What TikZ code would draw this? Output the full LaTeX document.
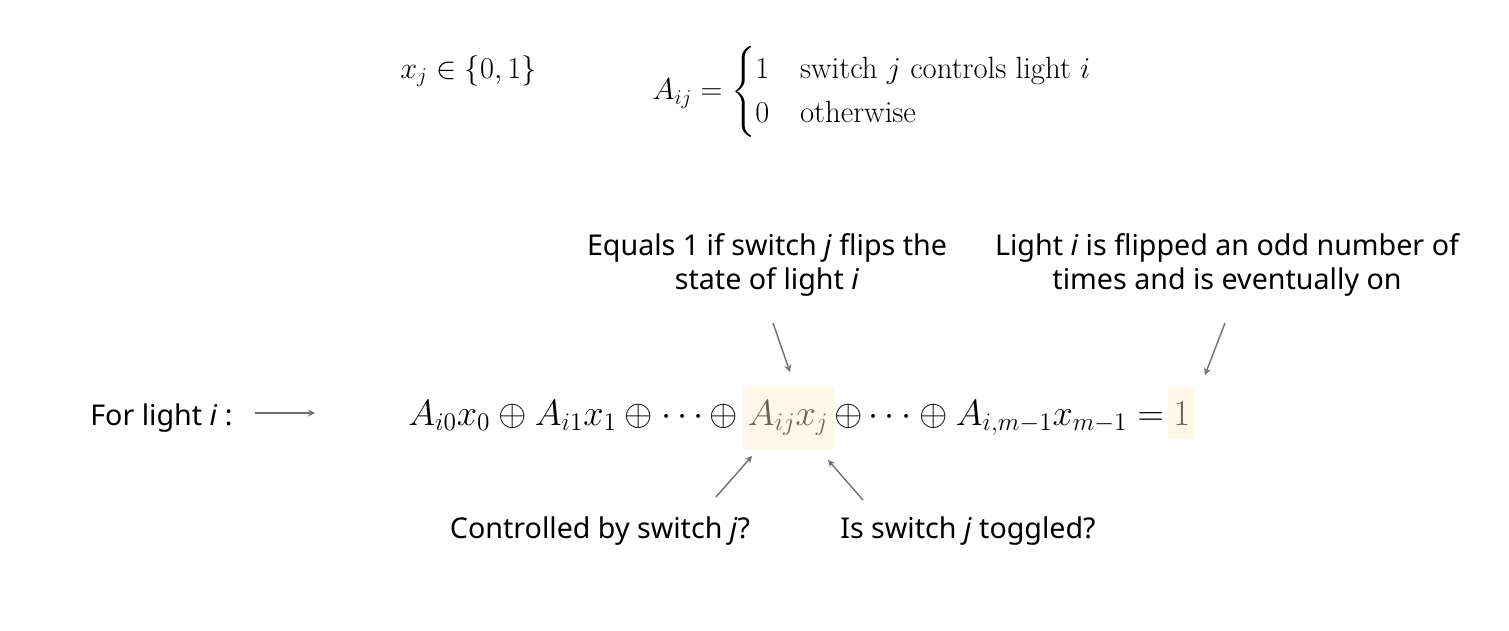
\documentclass[tikz,border=0pt]{standalone}
\usepackage{fontspec}
\usepackage{amsmath}
\setsansfont{Noto Sans}
\usetikzlibrary{positioning}
\definecolor{hl}{HTML}{FFF8E8}
\definecolor{hltext}{HTML}{6B6256}
\definecolor{arrgray}{HTML}{707070}
\tikzset{
  note/.style={font=\sffamily\fontsize{16.3}{19.5}\selectfont, align=center, inner sep=0pt},
  eq/.style={font=\fontsize{20}{24}\selectfont, inner sep=0pt},
  hlterm/.style={eq, fill=hl, text=hltext, inner ysep=8pt, inner xsep=3pt},
  arr/.style={->, >=stealth, arrgray, thick}
}
\begin{document}
\begin{tikzpicture}[x=0.02cm, y=-0.02cm]
    \useasboundingbox (0,0) rectangle (1509,630);
    % definitions
    \node[eq, font=\fontsize{17.5}{21}\selectfont, anchor=base west] (xdef) at (400,78) {$x_j \in \{0,1\}$};
    \node[eq, font=\fontsize{17.5}{21}\selectfont, anchor=west] (adef) at (652,92)
      {$A_{ij} = \begin{cases} 1 & \text{switch $j$ controls light $i$}\\ 0 & \text{otherwise}\end{cases}$};

    % equation
    \node[eq, anchor=base west] (lhs) at (408,425) {$A_{i0}x_0 \oplus A_{i1}x_1 \oplus \cdots \oplus$};
    \node[hlterm, anchor=base west] (aij) at ([xshift=2pt]lhs.base east) {$A_{ij}x_j$};
    \node[eq, anchor=base west] (rhs) at (aij.base east) {$\oplus \cdots \oplus A_{i,m-1}x_{m-1} =$};
    \node[hlterm, anchor=base west] (one) at ([xshift=2pt]rhs.base east) {$1$};

    \node[note, anchor=base west] (for) at (90,425) {For light \textit{i} :};
    \coordinate (forend) at (315,413);
    \draw[arr] (255,413) -- (forend);

    % notes
    \node[note] (flip) at (767,265) {Equals 1 if switch \textit{j} flips the\\state of light \textit{i}};
    \node[note] (odd) at (1227,265) {Light \textit{i} is flipped an odd number of\\times and is eventually on};
    \node[note] (ctrl) at (600,531) {Controlled by switch \textit{j}?};
    \node[note] (tog) at (968,531) {Is switch \textit{j} toggled?};

    \coordinate (flipt) at (773,323);
    \coordinate (oddt) at (1225,323);
    \coordinate (ctrlt) at (716,497);
    \coordinate (togt) at (863,500);
    \draw[arr] (flipt) -- (790,372);
    \draw[arr] (oddt) -- (1205,375);
    \draw[arr] (ctrlt) -- (752,456);
    \draw[arr] (togt) -- (828,460);
\end{tikzpicture}
\end{document}
